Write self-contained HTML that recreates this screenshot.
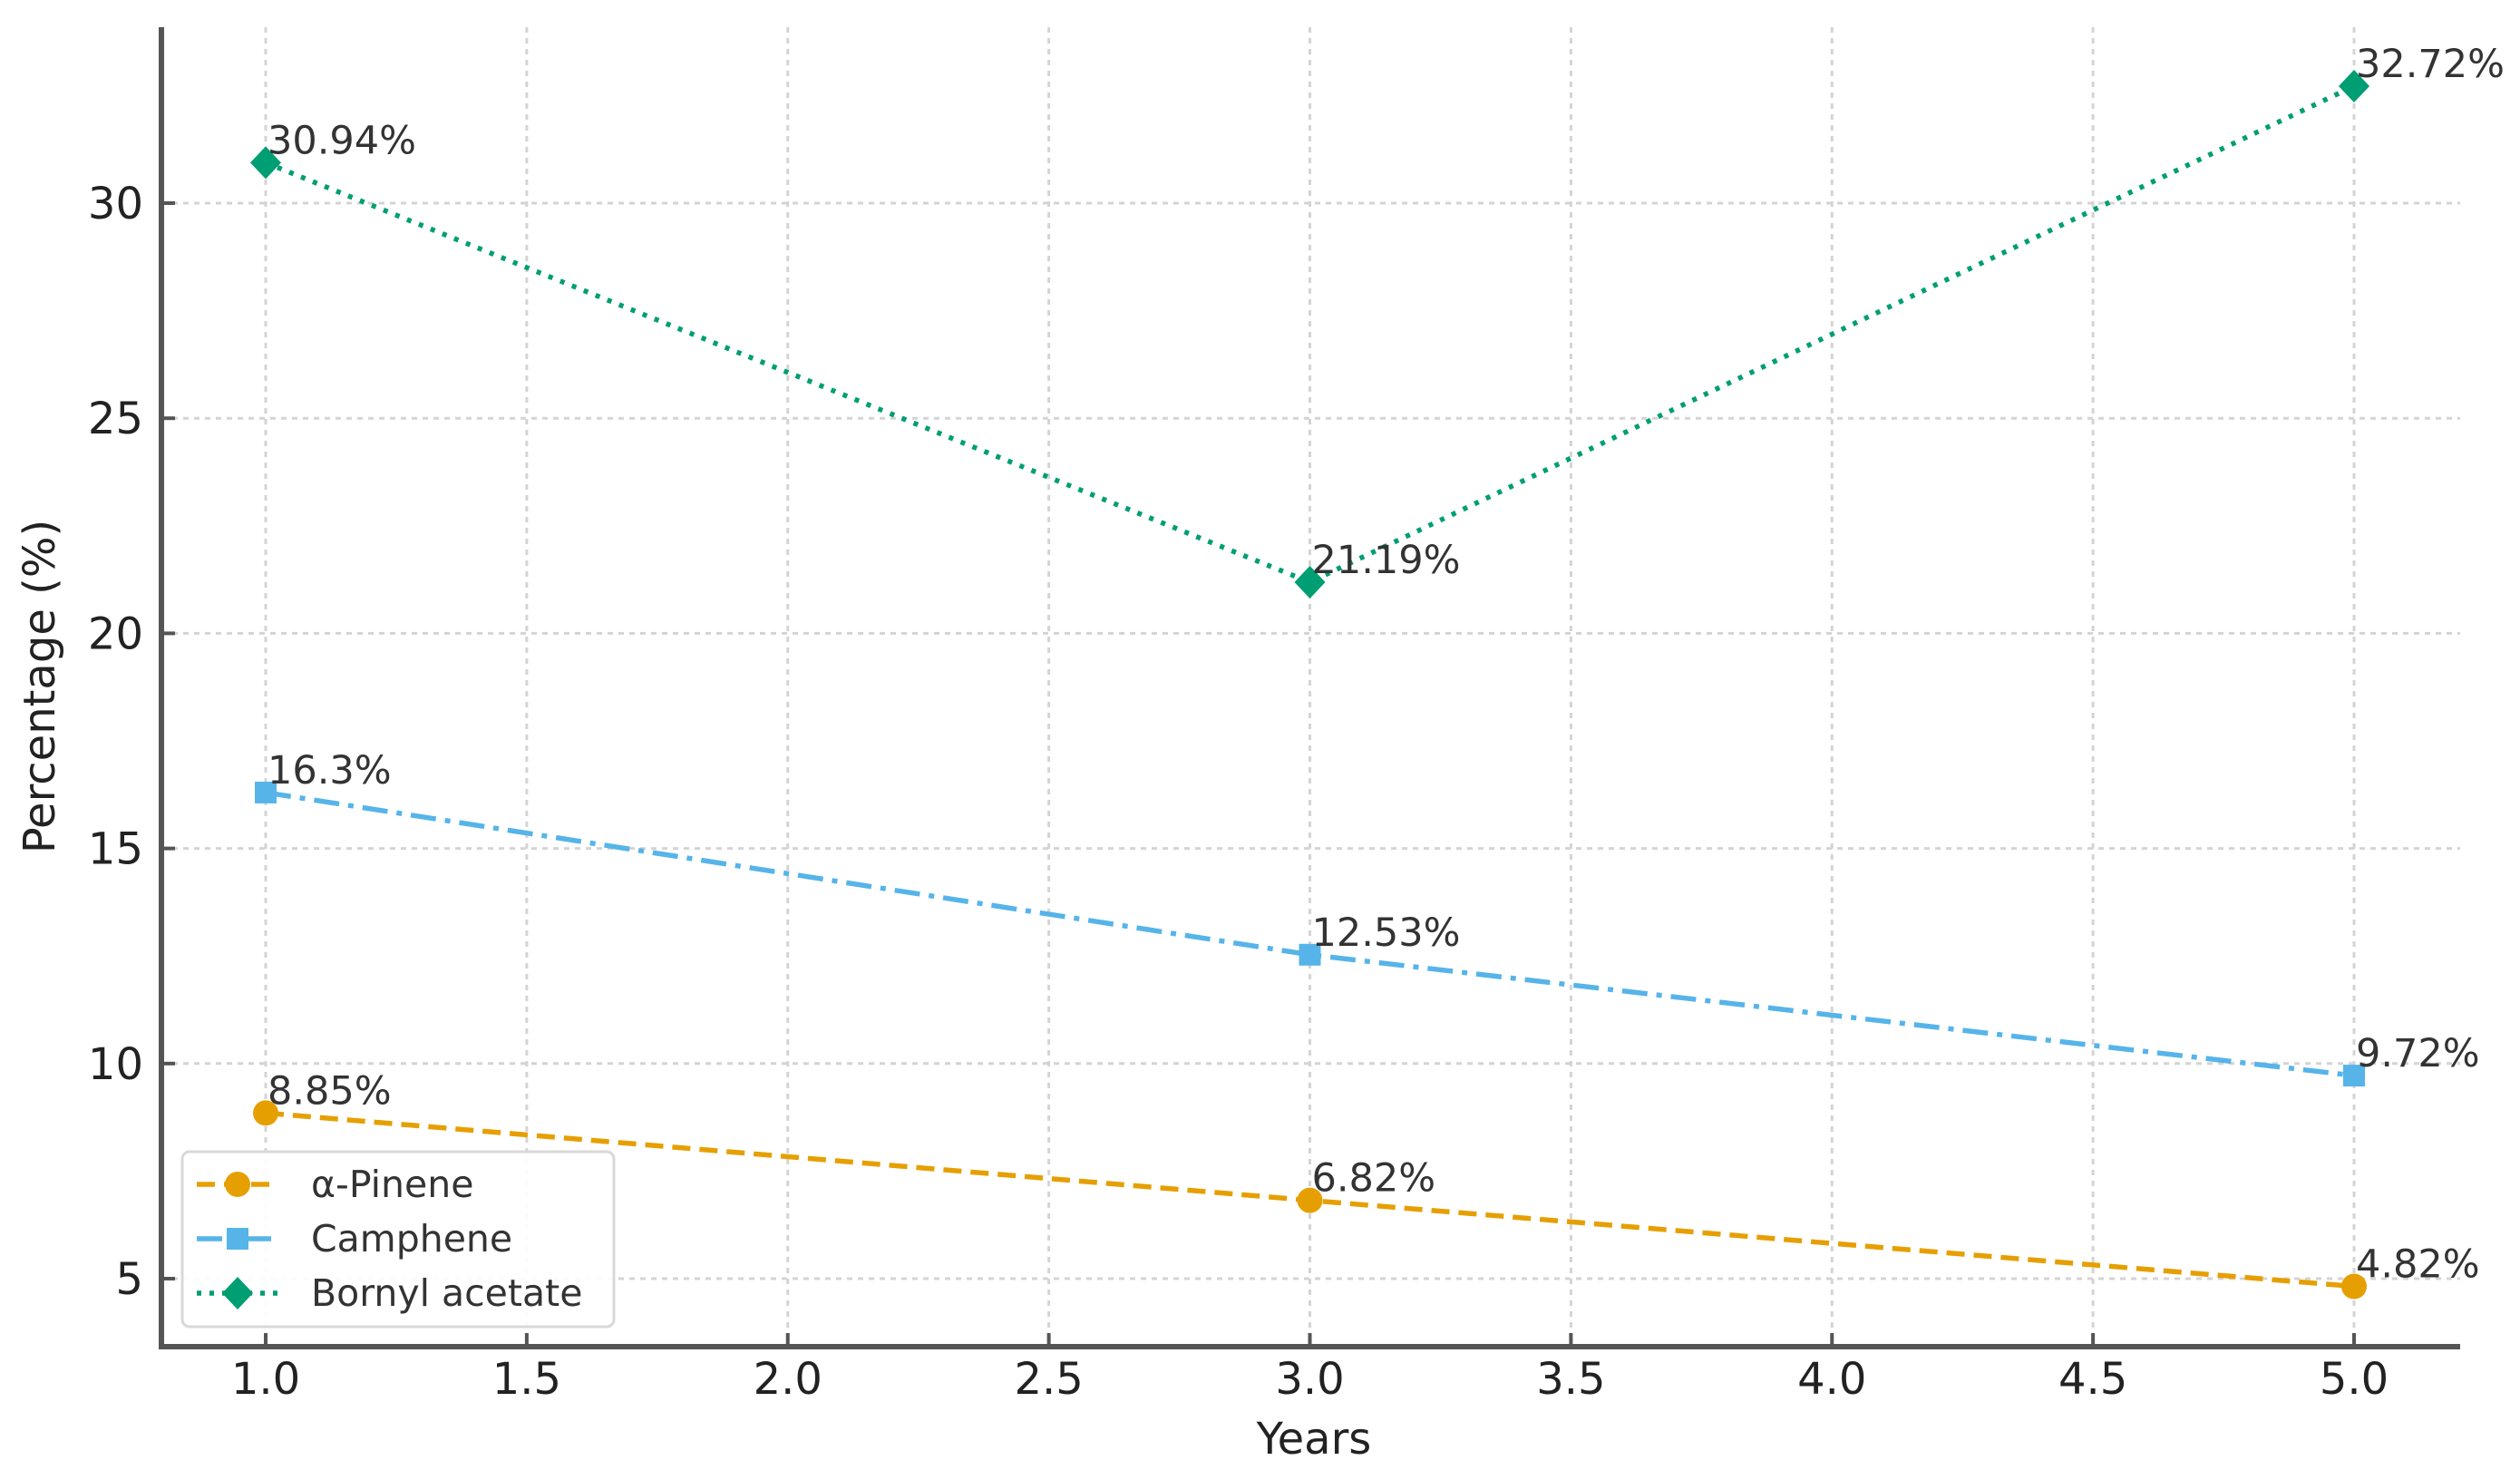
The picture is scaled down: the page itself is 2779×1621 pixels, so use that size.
<!DOCTYPE html>
<html><head><meta charset="utf-8"><style>
html,body{margin:0;padding:0;background:#fff;}
svg{display:block;font-family:"DejaVu Sans","Liberation Sans",sans-serif;}
</style></head><body>
<svg id="chart" width="2779" height="1621" viewBox="0 0 2779 1621" xmlns="http://www.w3.org/2000/svg">
<g id="grid"></g>
<g id="series"></g>
<g id="axes"></g>
<g id="legend"></g>
</svg>
<script>
const years = [1, 3, 5];
const pinene = [8.85, 6.82, 4.82];
const camphene = [16.3, 12.53, 9.72];
const bornyl = [30.94, 21.19, 32.72];
const xTicks = [1.0, 1.5, 2.0, 2.5, 3.0, 3.5, 4.0, 4.5, 5.0];
const yTicks = [5, 10, 15, 20, 25, 30];
const seriesNames = ["α-Pinene", "Camphene", "Bornyl acetate"];

const NS = "http://www.w3.org/2000/svg";
const X0 = 293, XU = 575.75, Y0 = 224, YU = 47.44;
const L = 178, R = 2713, T = 30, B = 1485;
function xs(v){ return X0 + (v - 1) * XU; }
function ys(v){ return Y0 + (30 - v) * YU; }
function mk(tag, attrs, parent){ const e = document.createElementNS(NS, tag); for (const k in attrs) e.setAttribute(k, attrs[k]); parent.appendChild(e); return e; }

const grid = document.getElementById('grid');
const axes = document.getElementById('axes');
const ser = document.getElementById('series');
const leg = document.getElementById('legend');

xTicks.forEach(t => {
  const x = xs(t);
  const g = mk('line', {x1:x, x2:x, y1:T, y2:B, stroke:'#d4d4d4', 'stroke-width':3, 'stroke-dasharray':'6,6'}, grid);
  
  
  const tk = mk('line', {x1:x, x2:x, y1:B, y2:B-15, stroke:'#555', 'stroke-width':4}, axes);
  
  
  const lb = mk('text', {x:x, y:B+52, 'text-anchor':'middle', 'font-size':48, fill:'#222'}, axes);
  lb.textContent = t.toFixed(1);
  
  
});
yTicks.forEach(t => {
  const y = ys(t);
  const g = mk('line', {x1:L, x2:R, y1:y, y2:y, stroke:'#d4d4d4', 'stroke-width':3, 'stroke-dasharray':'6,6'}, grid);
  
  
  const tk = mk('line', {x1:L, x2:L+15, y1:y, y2:y, stroke:'#555', 'stroke-width':4}, axes);
  
  
  const lb = mk('text', {x:L-20, y:y+17, 'text-anchor':'end', 'font-size':48, fill:'#222'}, axes);
  lb.textContent = String(t);
  
  
});
const sp1 = mk('line', {x1:L, x2:L, y1:T, y2:B+3, stroke:'#555', 'stroke-width':6}, axes);


const sp2 = mk('line', {x1:L-3, x2:R, y1:B, y2:B, stroke:'#555', 'stroke-width':6}, axes);


const xt = mk('text', {x:1449, y:1603, 'text-anchor':'middle', 'font-size':48, fill:'#222'}, axes);
xt.textContent = 'Years';


const yt = mk('text', {x:0, y:0, 'text-anchor':'middle', 'font-size':48, fill:'#222', transform:'translate(60,757) rotate(-90)'}, axes);
yt.textContent = 'Percentage (%)';



function marker(type, x, y, color, parent){
  let e;
  if (type === 'circle') e = mk('circle', {cx:x, cy:y, r:14, fill:color}, parent);
  else if (type === 'square') e = mk('rect', {x:x-12, y:y-12, width:24, height:24, fill:color}, parent);
  else e = mk('polygon', {points:`${x},${y-18} ${x+17},${y} ${x},${y+18} ${x-17},${y}`, fill:color}, parent);
  return e;
}
const specs = [
  {data:pinene, color:'#E69F00', dash:'20,10', m:'circle', key:'pinene'},
  {data:camphene, color:'#56B4E9', dash:'28,10,6,10', m:'square', key:'camphene'},
  {data:bornyl, color:'#009E73', dash:'5,9', m:'diamond', key:'bornyl'}
];
specs.forEach(s => {
  const g = mk('g', {}, ser);
  
  
  const pts = s.data.map((v,i) => xs(years[i]) + ',' + ys(v)).join(' ');
  const pl = mk('polyline', {points:pts, fill:'none', stroke:s.color, 'stroke-width':5.5, 'stroke-dasharray':s.dash}, g);
  
  
  s.data.forEach((v,i) => {
    const x = xs(years[i]), y = ys(v);
    const p = marker(s.m, x, y, s.color, g);
    
    
    const t = mk('text', {x:x+2, y:y-10, 'font-size':43, fill:'#333'}, g);
    t.textContent = v + '%';
    
    
  });
});

const box = mk('rect', {x:201, y:1270, width:476, height:193, rx:8, fill:'#fff', 'fill-opacity':0.9, stroke:'#d8d8d8', 'stroke-width':3}, leg);


specs.forEach((s,i) => {
  const y = 1306 + i*60;
  const g = mk('g', {}, leg);
  
  
  const l = mk('line', {x1:217, x2:307, y1:y, y2:y, stroke:s.color, 'stroke-width':5.5, 'stroke-dasharray':s.dash}, g);
  
  
  const m = marker(s.m, 262, y, s.color, g);
  
  
  const t = mk('text', {x:343, y:y+14, 'font-size':41, fill:'#333'}, g);
  t.textContent = seriesNames[i];
  
  
});
</script>
</body></html>
